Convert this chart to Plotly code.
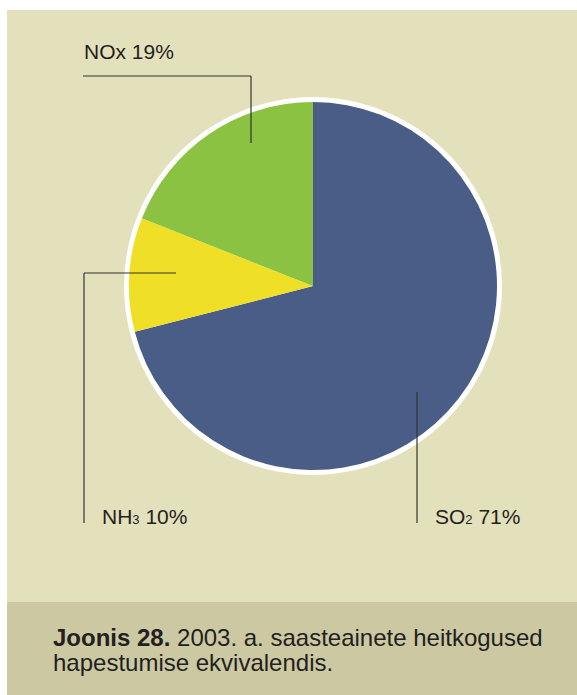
import plotly.graph_objects as go

# Acidifying pollutant emissions, 2003 (acid equivalents, %)
pollutants = ["SO", "NH", "NOx"]
subscripts = ["2", "3", ""]
shares = [71, 10, 19]
slice_colors = ["#4a5d87", "#efe027", "#8cc241"]
caption_lines = ["<b>Joonis 28.</b> 2003. a. saasteainete heitkogused",
                 "hapestumise ekvivalendis."]

W, H = 577, 695
FONT = "Liberation Sans, Arial, sans-serif"
INK = "#231f20"


def px(x):
    return x / W


def py(y):
    return 1 - y / H


def formula(base, sub):
    # small index digit sitting on the baseline
    if not sub:
        return base
    return f'{base}<span style="font-size:13px">{sub}</span>'


# pie geometry in pixels
cx, cy, r = 313, 286, 184
ring = 5

fig = go.Figure()
fig.add_trace(go.Pie(
    labels=[formula(b, s) for b, s in zip(pollutants, subscripts)],
    values=shares,
    sort=False,
    direction="clockwise",
    rotation=0,
    marker=dict(colors=slice_colors, line=dict(width=0)),
    textinfo="none",
    hoverinfo="label+percent",
    showlegend=False,
    domain=dict(x=[px(cx - r), px(cx + r)], y=[py(cy + r), py(cy - r)]),
))

shapes = [
    # main panel
    dict(type="rect", xref="paper", yref="paper", x0=px(7), x1=px(W), y0=py(602), y1=py(10),
         fillcolor="#e3e0bc", line=dict(width=0), layer="below"),
    # caption band
    dict(type="rect", xref="paper", yref="paper", x0=px(7), x1=px(W), y0=py(H), y1=py(602),
         fillcolor="#cbc8a2", line=dict(width=0), layer="below"),
    # white rim around the pie
    dict(type="circle", xref="paper", yref="paper",
         x0=px(cx - r - ring), x1=px(cx + r + ring), y0=py(cy + r + ring), y1=py(cy - r - ring),
         fillcolor="white", line=dict(width=0), layer="below"),
]

leader = dict(color="#333333", width=1.2)
# NOx leader
shapes += [
    dict(type="line", xref="paper", yref="paper", x0=px(83), x1=px(251), y0=py(76), y1=py(76), line=leader),
    dict(type="line", xref="paper", yref="paper", x0=px(251), x1=px(251), y0=py(76), y1=py(143), line=leader),
]
# NH3 leader
shapes += [
    dict(type="line", xref="paper", yref="paper", x0=px(84), x1=px(176), y0=py(273), y1=py(273), line=leader),
    dict(type="line", xref="paper", yref="paper", x0=px(84), x1=px(84), y0=py(273), y1=py(523), line=leader),
]
# SO2 leader
shapes += [
    dict(type="line", xref="paper", yref="paper", x0=px(417), x1=px(417), y0=py(392), y1=py(523), line=leader),
]

label_pos = [(433, 516), (100, 516), (82, 51)]
annotations = []
for base, sub, val, (lx, ly) in zip(pollutants, subscripts, shares, label_pos):
    annotations.append(dict(
        x=px(lx), y=py(ly), xref="paper", yref="paper",
        xanchor="left", yanchor="middle", showarrow=False,
        text=f"{formula(base, sub)} {val}%",
        font=dict(family=FONT, size=21, color=INK),
    ))

for line, ly in zip(caption_lines, [637, 662]):
    annotations.append(dict(
        x=px(51), y=py(ly), xref="paper", yref="paper",
        xanchor="left", yanchor="middle", align="left", showarrow=False,
        text=line,
        font=dict(family=FONT, size=24, color=INK),
    ))

fig.update_layout(
    width=W, height=H,
    margin=dict(l=0, r=0, t=0, b=0),
    paper_bgcolor="white",
    plot_bgcolor="white",
    shapes=shapes,
    annotations=annotations,
)

fig.write_html("out.html", config={"displayModeBar": False})
